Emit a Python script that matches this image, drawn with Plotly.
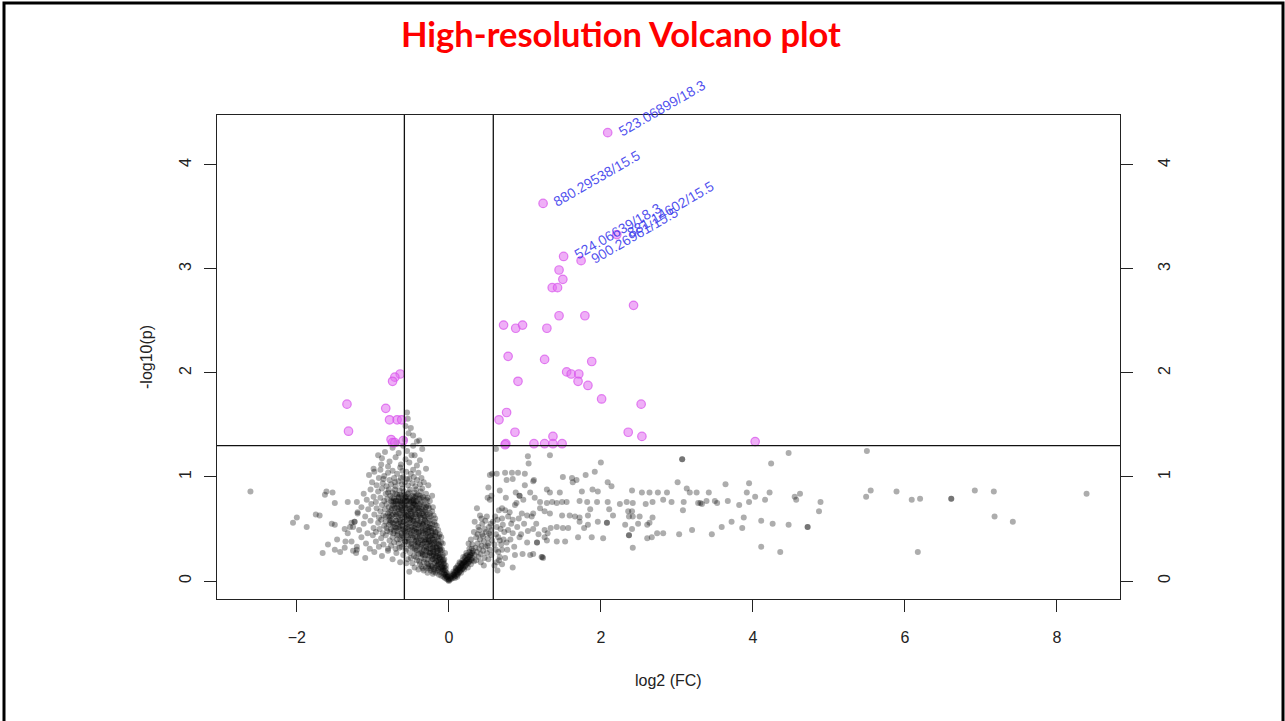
import math
import plotly.graph_objects as go

# ---- cut-offs -------------------------------------------------------------
FC_CUT = 1.5      # fold change
P_CUT = 0.05      # p-value

# ---- non-significant features: (log2 FC, -log10 p) -----------------------
left_arm = [
    (-0.93, 1.21), (-0.88, 1.18), (-0.84, 1.24), (-0.78, 1.15), (-0.74, 1.28), (-0.70, 1.19),
    (-0.66, 1.23), (-0.63, 1.12), (-0.60, 1.30), (-0.57, 1.17), (-0.55, 1.25), (-0.52, 1.14),
    (-0.49, 1.21), (-0.45, 1.21), (-0.42, 1.11), (-0.38, 1.16), (-0.35, 1.27), (-0.80, 1.10),
    (-0.69, 1.33), (-0.58, 1.36), (-0.47, 1.30), (-0.61, 1.06), (-0.89, 1.12), (-0.99, 1.08),
    (-0.55, 1.62), (-0.54, 1.56), (-0.53, 1.42), (-0.47, 1.40), (-0.42, 1.34), (-0.39, 1.35),
    (-0.50, 1.47), (-0.57, 1.49), (-0.30, 1.08),
    (-1.05, 1.02), (-1.01, 0.95), (-0.98, 1.05), (-0.95, 0.92), (-0.92, 0.99), (-0.90, 1.07),
    (-0.87, 0.94), (-0.85, 1.01), (-0.82, 0.91), (-0.80, 1.04), (-0.78, 0.97), (-0.76, 0.93),
    (-0.74, 1.06), (-0.72, 0.99), (-0.70, 0.91), (-0.68, 1.03), (-0.66, 0.96), (-0.64, 1.09),
    (-0.62, 0.93), (-0.60, 1.00), (-0.58, 0.95), (-0.56, 1.05), (-0.54, 0.92), (-0.52, 0.98),
    (-0.50, 1.03), (-0.48, 0.94), (-0.46, 1.00), (-0.44, 0.91), (-0.42, 0.97), (-0.40, 1.04),
    (-0.38, 0.93), (-0.36, 0.99), (-0.33, 0.95), (-0.27, 0.92), (-0.63, 0.99), (-0.71, 0.95),
    (-0.55, 0.98), (-0.47, 1.07), (-0.86, 0.98),
    (-1.12, 0.84), (-1.08, 0.78), (-1.03, 0.88), (-0.99, 0.81), (-0.96, 0.76), (-0.93, 0.86),
    (-0.90, 0.80), (-0.88, 0.89), (-0.85, 0.77), (-0.83, 0.84), (-0.81, 0.79), (-0.79, 0.88),
    (-0.77, 0.82), (-0.75, 0.76), (-0.74, 0.85), (-0.72, 0.79), (-0.71, 0.88), (-0.69, 0.77),
    (-0.68, 0.83), (-0.66, 0.80), (-0.65, 0.87), (-0.63, 0.76), (-0.62, 0.82), (-0.60, 0.78),
    (-0.59, 0.86), (-0.57, 0.81), (-0.56, 0.77), (-0.54, 0.84), (-0.53, 0.79), (-0.51, 0.88),
    (-0.50, 0.76), (-0.48, 0.82), (-0.47, 0.78), (-0.45, 0.85), (-0.44, 0.80), (-0.42, 0.77),
    (-0.41, 0.83), (-0.39, 0.79), (-0.37, 0.86), (-0.36, 0.76), (-0.34, 0.81), (-0.32, 0.78),
    (-0.30, 0.84), (-0.28, 0.80), (-0.25, 0.77), (-0.22, 0.82),
    (-0.76, 0.77), (-0.73, 0.77), (-0.70, 0.77), (-0.67, 0.77), (-0.64, 0.77), (-0.61, 0.77),
    (-0.58, 0.77), (-0.55, 0.77), (-0.52, 0.77), (-0.49, 0.77), (-0.46, 0.77), (-0.43, 0.77),
    (-0.70, 0.84), (-0.61, 0.89), (-0.52, 0.85), (-0.43, 0.88), (-0.35, 0.89), (-0.58, 0.80),
    (-0.46, 0.81), (-0.64, 0.83), (-0.38, 0.82), (-0.80, 0.85),
    (-1.20, 0.66), (-1.15, 0.71), (-1.10, 0.62), (-1.06, 0.69), (-1.02, 0.74), (-0.98, 0.64),
    (-0.95, 0.70), (-0.92, 0.61), (-0.90, 0.67), (-0.88, 0.73), (-0.86, 0.63), (-0.84, 0.69),
    (-0.82, 0.74), (-0.80, 0.65), (-0.79, 0.71), (-0.77, 0.61), (-0.76, 0.68), (-0.74, 0.73),
    (-0.73, 0.64), (-0.71, 0.70), (-0.70, 0.62), (-0.68, 0.67), (-0.67, 0.74), (-0.65, 0.65),
    (-0.64, 0.71), (-0.62, 0.61), (-0.61, 0.68), (-0.59, 0.73), (-0.58, 0.64), (-0.56, 0.70),
    (-0.55, 0.62), (-0.53, 0.67), (-0.52, 0.74), (-0.50, 0.65), (-0.49, 0.71), (-0.47, 0.61),
    (-0.46, 0.68), (-0.44, 0.73), (-0.43, 0.64), (-0.41, 0.70), (-0.40, 0.62), (-0.38, 0.67),
    (-0.37, 0.74), (-0.35, 0.65), (-0.34, 0.71), (-0.32, 0.61), (-0.31, 0.68), (-0.29, 0.73),
    (-0.28, 0.64), (-0.26, 0.70), (-0.24, 0.62), (-0.22, 0.67), (-0.20, 0.63), (-0.18, 0.60),
    (-0.83, 0.62), (-0.78, 0.66), (-0.72, 0.72), (-0.69, 0.64), (-0.66, 0.69), (-0.63, 0.63),
    (-0.60, 0.66), (-0.57, 0.72), (-0.54, 0.64), (-0.51, 0.69), (-0.48, 0.63), (-0.45, 0.66),
    (-0.42, 0.72), (-0.39, 0.64), (-0.36, 0.69), (-0.33, 0.63), (-0.30, 0.66), (-0.27, 0.72),
    (-0.25, 0.65), (-0.21, 0.71), (-0.75, 0.63), (-0.62, 0.70), (-0.50, 0.62), (-0.40, 0.68),
    (-0.30, 0.71), (-0.45, 0.74), (-0.57, 0.66), (-0.68, 0.71),
    (-1.30, 0.52), (-1.24, 0.57), (-1.18, 0.49), (-1.12, 0.55), (-1.07, 0.46), (-1.03, 0.58),
    (-0.99, 0.51), (-0.96, 0.47), (-0.93, 0.56), (-0.91, 0.50), (-0.89, 0.59), (-0.87, 0.46),
    (-0.85, 0.53), (-0.83, 0.57), (-0.81, 0.48), (-0.79, 0.54), (-0.78, 0.59), (-0.76, 0.50),
    (-0.74, 0.56), (-0.73, 0.46), (-0.71, 0.52), (-0.70, 0.58), (-0.68, 0.48), (-0.67, 0.55),
    (-0.65, 0.50), (-0.64, 0.59), (-0.62, 0.46), (-0.61, 0.53), (-0.59, 0.57), (-0.58, 0.48),
    (-0.56, 0.54), (-0.55, 0.59), (-0.53, 0.50), (-0.52, 0.56), (-0.50, 0.46), (-0.49, 0.52),
    (-0.47, 0.58), (-0.46, 0.48), (-0.44, 0.55), (-0.43, 0.50), (-0.41, 0.59), (-0.40, 0.46),
    (-0.38, 0.53), (-0.37, 0.57), (-0.35, 0.48), (-0.34, 0.54), (-0.32, 0.59), (-0.31, 0.50),
    (-0.29, 0.56), (-0.28, 0.46), (-0.26, 0.52), (-0.25, 0.58), (-0.23, 0.48), (-0.22, 0.55),
    (-0.20, 0.50), (-0.19, 0.57), (-0.17, 0.47), (-0.16, 0.53), (-0.14, 0.49), (-0.12, 0.45),
    (-0.82, 0.51), (-0.77, 0.47), (-0.72, 0.55), (-0.66, 0.52), (-0.60, 0.49), (-0.54, 0.52),
    (-0.48, 0.55), (-0.42, 0.47), (-0.36, 0.51), (-0.30, 0.53), (-0.24, 0.51), (-0.18, 0.54),
    (-0.63, 0.56), (-0.51, 0.59), (-0.39, 0.56), (-0.27, 0.49), (-0.57, 0.51), (-0.45, 0.51),
    (-0.33, 0.56), (-0.21, 0.46),
    (-1.28, 0.38), (-1.21, 0.33), (-1.15, 0.42), (-1.09, 0.36), (-1.04, 0.31), (-1.00, 0.44),
    (-0.96, 0.38), (-0.92, 0.33), (-0.89, 0.41), (-0.86, 0.35), (-0.83, 0.44), (-0.80, 0.31),
    (-0.78, 0.39), (-0.76, 0.34), (-0.74, 0.42), (-0.72, 0.37), (-0.70, 0.31), (-0.68, 0.44),
    (-0.66, 0.36), (-0.64, 0.40), (-0.62, 0.33), (-0.60, 0.43), (-0.58, 0.38), (-0.56, 0.31),
    (-0.54, 0.41), (-0.52, 0.35), (-0.50, 0.44), (-0.48, 0.32), (-0.46, 0.39), (-0.44, 0.34),
    (-0.42, 0.42), (-0.40, 0.37), (-0.38, 0.31), (-0.36, 0.44), (-0.34, 0.36), (-0.32, 0.40),
    (-0.30, 0.33), (-0.28, 0.43), (-0.26, 0.38), (-0.24, 0.31), (-0.22, 0.41), (-0.20, 0.35),
    (-0.18, 0.44), (-0.16, 0.32), (-0.14, 0.39), (-0.12, 0.34), (-0.10, 0.42), (-0.08, 0.36),
    (-0.65, 0.32), (-0.59, 0.35), (-0.53, 0.38), (-0.47, 0.42), (-0.41, 0.34), (-0.35, 0.39),
    (-0.29, 0.36), (-0.23, 0.44), (-0.17, 0.38), (-0.11, 0.31), (-0.55, 0.44), (-0.49, 0.36),
    (-0.43, 0.39), (-0.37, 0.33), (-0.31, 0.42), (-0.25, 0.34), (-0.19, 0.40), (-0.13, 0.43),
    (-0.45, 0.31), (-0.33, 0.30), (-0.21, 0.32), (-0.27, 0.40), (-0.39, 0.41), (-0.15, 0.36),
    (-1.22, 0.27), (-1.10, 0.22), (-0.98, 0.28), (-0.88, 0.24), (-0.80, 0.29), (-0.74, 0.21),
    (-0.69, 0.27), (-0.64, 0.18), (-0.60, 0.25), (-0.57, 0.29), (-0.54, 0.21), (-0.51, 0.27),
    (-0.48, 0.17), (-0.46, 0.24), (-0.44, 0.29), (-0.42, 0.20), (-0.40, 0.26), (-0.38, 0.16),
    (-0.36, 0.22), (-0.35, 0.28), (-0.33, 0.18), (-0.31, 0.25), (-0.30, 0.29), (-0.28, 0.21),
    (-0.27, 0.16), (-0.25, 0.27), (-0.24, 0.19), (-0.22, 0.24), (-0.21, 0.29), (-0.19, 0.17),
    (-0.18, 0.22), (-0.16, 0.27), (-0.15, 0.15), (-0.14, 0.20), (-0.12, 0.25), (-0.11, 0.29),
    (-0.10, 0.18), (-0.09, 0.23), (-0.07, 0.16), (-0.06, 0.21), (-0.05, 0.27), (-0.04, 0.15),
    (-0.43, 0.23), (-0.37, 0.27), (-0.32, 0.21), (-0.26, 0.24), (-0.20, 0.26), (-0.17, 0.19),
    (-0.13, 0.22), (-0.08, 0.19), (-0.29, 0.17), (-0.23, 0.15), (-0.39, 0.19), (-0.34, 0.25),
    (-0.21, 0.21), (-0.11, 0.16), (-0.15, 0.24), (-0.27, 0.28), (-0.50, 0.22), (-0.56, 0.17),
    (-0.52, 0.09), (-0.45, 0.13), (-0.40, 0.11), (-0.36, 0.14), (-0.33, 0.10), (-0.30, 0.13),
    (-0.28, 0.08), (-0.26, 0.12), (-0.24, 0.10), (-0.22, 0.14), (-0.21, 0.07), (-0.19, 0.11),
    (-0.18, 0.13), (-0.17, 0.08), (-0.15, 0.10), (-0.14, 0.12), (-0.13, 0.06), (-0.12, 0.09),
    (-0.11, 0.13), (-0.10, 0.05), (-0.09, 0.08), (-0.08, 0.11), (-0.07, 0.04), (-0.06, 0.07),
    (-0.05, 0.10), (-0.05, 0.03), (-0.04, 0.06), (-0.03, 0.02), (-0.03, 0.08), (-0.02, 0.04),
    (-0.01, 0.01), (-0.01, 0.05), (0.00, 0.00), (0.00, 0.02), (-0.16, 0.14), (-0.23, 0.12),
    (-0.20, 0.09), (-0.27, 0.14), (-0.34, 0.12), (-0.08, 0.13), (-0.02, 0.07),
]

# the most crowded part of the cloud (down-regulated side and the V tip)
core_dense = [
    (-0.79, 0.62), (-0.77, 0.56), (-0.75, 0.70), (-0.73, 0.52), (-0.71, 0.66), (-0.69, 0.58),
    (-0.67, 0.45), (-0.66, 0.62), (-0.64, 0.53), (-0.63, 0.68), (-0.61, 0.41), (-0.60, 0.57),
    (-0.58, 0.71), (-0.57, 0.46), (-0.56, 0.63), (-0.54, 0.55), (-0.53, 0.40), (-0.52, 0.69),
    (-0.51, 0.49), (-0.49, 0.60), (-0.48, 0.44), (-0.47, 0.73), (-0.46, 0.53), (-0.45, 0.37),
    (-0.44, 0.64), (-0.43, 0.47), (-0.42, 0.58), (-0.41, 0.36), (-0.40, 0.51), (-0.39, 0.70),
    (-0.38, 0.43), (-0.37, 0.61), (-0.36, 0.35), (-0.35, 0.55), (-0.34, 0.46), (-0.33, 0.67),
    (-0.32, 0.38), (-0.31, 0.58), (-0.30, 0.45), (-0.29, 0.31), (-0.28, 0.52), (-0.27, 0.37),
    (-0.26, 0.60), (-0.25, 0.43), (-0.24, 0.27), (-0.23, 0.51), (-0.22, 0.35), (-0.21, 0.44),
    (-0.20, 0.28), (-0.19, 0.37), (-0.18, 0.47), (-0.17, 0.24), (-0.16, 0.33), (-0.15, 0.42),
    (-0.14, 0.27), (-0.13, 0.18), (-0.12, 0.30), (-0.11, 0.21), (-0.10, 0.37), (-0.09, 0.14),
    (-0.08, 0.25), (-0.07, 0.10), (-0.06, 0.17), (-0.05, 0.06), (-0.04, 0.12), (-0.03, 0.04),
    (-0.74, 0.80), (-0.70, 0.74), (-0.66, 0.81), (-0.62, 0.75), (-0.59, 0.83), (-0.55, 0.73),
    (-0.51, 0.80), (-0.47, 0.75), (-0.43, 0.82), (-0.40, 0.74), (-0.36, 0.80), (-0.33, 0.73),
    (-0.29, 0.78), (-0.72, 0.48), (-0.68, 0.40), (-0.65, 0.57), (-0.61, 0.50), (-0.57, 0.38),
    (-0.53, 0.60), (-0.50, 0.33), (-0.46, 0.58), (-0.42, 0.29), (-0.39, 0.47), (-0.35, 0.26),
    (-0.31, 0.48), (-0.28, 0.25), (-0.25, 0.39), (-0.22, 0.21), (-0.19, 0.30), (-0.16, 0.19),
    (-0.13, 0.35), (-0.10, 0.11), (-0.07, 0.20), (-0.44, 0.42), (-0.41, 0.54), (-0.37, 0.39),
    (-0.34, 0.49), (-0.30, 0.40), (-0.27, 0.47), (-0.24, 0.36), (-0.21, 0.40), (-0.18, 0.32),
    (-0.15, 0.29), (-0.12, 0.23), (-0.09, 0.30), (-0.06, 0.13), (-0.32, 0.33), (-0.26, 0.31),
    (-0.20, 0.24), (-0.14, 0.16), (-0.48, 0.49), (-0.55, 0.47), (-0.62, 0.44), (-0.69, 0.51),
    (-0.76, 0.58), (-0.58, 0.61), (-0.50, 0.67), (-0.44, 0.69), (-0.38, 0.63), (-0.31, 0.62),
    (-0.25, 0.55), (-0.63, 0.73), (-0.56, 0.81), (-0.48, 0.71),
    (0.03, 0.04), (0.05, 0.07), (0.07, 0.06), (0.09, 0.10), (0.11, 0.10), (0.13, 0.13),
    (0.15, 0.13), (0.17, 0.15), (0.19, 0.17), (0.21, 0.18), (0.23, 0.20), (0.25, 0.21),
    (0.27, 0.23), (0.29, 0.25), (0.31, 0.27), (0.14, 0.09), (0.18, 0.12), (0.22, 0.15),
    (0.26, 0.18), (0.30, 0.20), (0.08, 0.03), (0.12, 0.06),
]

right_arm = [
    (0.01, 0.01), (0.02, 0.03), (0.03, 0.02), (0.04, 0.05), (0.05, 0.03), (0.06, 0.06),
    (0.07, 0.04), (0.08, 0.08), (0.09, 0.05), (0.10, 0.09), (0.11, 0.07), (0.12, 0.11),
    (0.13, 0.08), (0.14, 0.12), (0.15, 0.10), (0.16, 0.14), (0.17, 0.11), (0.18, 0.16),
    (0.19, 0.13), (0.20, 0.18), (0.21, 0.14), (0.22, 0.19), (0.23, 0.16), (0.24, 0.21),
    (0.25, 0.17), (0.26, 0.23), (0.27, 0.19), (0.28, 0.25), (0.29, 0.21), (0.30, 0.27),
    (0.31, 0.22), (0.32, 0.29), (0.06, 0.09), (0.09, 0.12), (0.12, 0.15), (0.15, 0.17),
    (0.18, 0.20), (0.21, 0.22), (0.24, 0.25), (0.27, 0.28), (0.11, 0.04), (0.16, 0.08),
    (0.20, 0.11), (0.25, 0.13), (0.29, 0.16), (0.33, 0.19), (0.14, 0.18), (0.19, 0.23),
    (0.23, 0.27), (0.27, 0.31), (0.10, 0.13), (0.17, 0.17), (0.22, 0.24),
    (0.34, 0.25), (0.35, 0.32), (0.36, 0.20), (0.37, 0.28), (0.38, 0.36), (0.39, 0.23),
    (0.40, 0.31), (0.41, 0.40), (0.42, 0.26), (0.43, 0.34), (0.44, 0.45), (0.45, 0.29),
    (0.46, 0.38), (0.47, 0.22), (0.48, 0.33), (0.49, 0.47), (0.50, 0.27), (0.51, 0.41),
    (0.52, 0.36), (0.53, 0.52), (0.54, 0.30), (0.55, 0.44), (0.56, 0.25), (0.57, 0.39),
    (0.36, 0.42), (0.40, 0.49), (0.44, 0.55), (0.48, 0.58), (0.34, 0.57), (0.37, 0.70),
    (0.31, 0.35), (0.29, 0.40), (0.33, 0.47), (0.42, 0.18), (0.46, 0.15), (0.52, 0.21),
    (0.55, 0.55), (0.50, 0.62), (0.41, 0.63), (0.26, 0.36), (0.47, 0.50), (0.53, 0.46),
    (0.39, 0.52), (0.45, 0.43), (0.43, 0.60), (0.38, 0.45), (0.51, 0.34), (0.30, 0.31),
    (0.56, 0.49), (0.58, 0.57), (0.54, 1.02), (0.52, 0.90), (0.56, 0.82),
]

right_tail = [
    (0.62, 1.27), (1.04, 1.20), (1.05, 1.13), (1.33, 1.21), (2.00, 1.14), (3.07, 1.17),
    (3.07, 1.17), (4.24, 1.13), (4.47, 1.23), (0.57, 1.03), (0.63, 1.03), (0.74, 1.04),
    (0.83, 1.04), (0.91, 1.04), (1.00, 1.03), (0.76, 0.97), (0.84, 0.98), (1.11, 0.96),
    (1.12, 0.97), (1.00, 0.92), (1.50, 1.00), (1.62, 0.99), (1.68, 0.97), (1.63, 0.95),
    (1.80, 1.02), (1.92, 1.05), (2.09, 0.95), (2.14, 0.91), (3.01, 0.95), (3.13, 0.89),
    (3.64, 0.93), (3.95, 0.94), (0.67, 0.87), (0.93, 0.82), (0.93, 0.82), (1.07, 0.85),
    (1.13, 0.80), (1.29, 0.88), (1.33, 0.85), (1.46, 0.85), (1.75, 0.86), (1.89, 0.88),
    (1.96, 0.86), (2.41, 0.87), (2.54, 0.85), (2.64, 0.85), (2.75, 0.85), (2.87, 0.85),
    (3.17, 0.85), (3.26, 0.85), (3.42, 0.85), (3.92, 0.85), (4.03, 0.81), (4.22, 0.85),
    (4.16, 0.78), (4.55, 0.81), (4.62, 0.84), (0.51, 0.80), (0.54, 0.78), (0.89, 0.75),
    (0.87, 0.73), (1.20, 0.76), (1.29, 0.75), (1.36, 0.76), (1.42, 0.75), (1.49, 0.76),
    (1.55, 0.76), (1.72, 0.77), (1.82, 0.76), (1.95, 0.76), (2.09, 0.76), (2.25, 0.74),
    (2.34, 0.76), (2.42, 0.75), (2.59, 0.74), (2.68, 0.76), (2.82, 0.78), (2.93, 0.76),
    (3.09, 0.76), (3.28, 0.75), (3.33, 0.74), (3.31, 0.75), (3.39, 0.77), (3.50, 0.77),
    (3.53, 0.75), (3.67, 0.77), (3.82, 0.73), (3.95, 0.76), (4.89, 0.76), (4.87, 0.67),
    (4.57, 0.78), (0.70, 0.70), (0.74, 0.68), (0.80, 0.66), (0.96, 0.65), (1.03, 0.63),
    (1.09, 0.62), (1.26, 0.67), (1.33, 0.65), (1.49, 0.63), (1.59, 0.63), (1.66, 0.62),
    (1.72, 0.61), (1.86, 0.69), (1.83, 0.63), (2.11, 0.69), (2.36, 0.67), (2.41, 0.67),
    (2.37, 0.62), (2.42, 0.62), (2.51, 0.62), (2.68, 0.61), (3.08, 0.68), (2.08, 0.56),
    (2.08, 0.56), (1.96, 0.57), (3.88, 0.61), (3.72, 0.57), (4.11, 0.58), (4.26, 0.55),
    (4.47, 0.54), (4.72, 0.52), (4.72, 0.52), (3.59, 0.52), (3.20, 0.49), (3.03, 0.45),
    (3.46, 0.45), (3.86, 0.51), (2.74, 0.46), (2.82, 0.46), (2.61, 0.41), (2.67, 0.42),
    (2.37, 0.44), (2.37, 0.44), (2.41, 0.50), (2.32, 0.54), (2.49, 0.55), (2.61, 0.54),
    (2.64, 0.56), (2.16, 0.63), (1.78, 0.51), (1.83, 0.54), (1.72, 0.57), (1.70, 0.42),
    (1.88, 0.42), (2.03, 0.41), (1.50, 0.51), (1.57, 0.51), (1.42, 0.52), (1.34, 0.51),
    (1.11, 0.50), (1.26, 0.49), (1.30, 0.46), (1.42, 0.38), (1.53, 0.38), (1.16, 0.37),
    (1.16, 0.37), (1.26, 0.42), (1.29, 0.39), (2.42, 0.32), (4.11, 0.33), (4.36, 0.28),
    (0.84, 0.46), (0.93, 0.42), (1.03, 0.37), (0.87, 0.25), (0.97, 0.26), (1.07, 0.25),
    (1.11, 0.26), (1.22, 0.23), (1.24, 0.22), (1.23, 0.23), (0.84, 0.13), (0.70, 0.30),
    (0.74, 0.22), (0.63, 0.18), (0.67, 0.23), (0.76, 0.37), (0.67, 0.39), (0.71, 0.54),
    (0.78, 0.49), (0.84, 0.59), (0.78, 0.62), (0.61, 0.62), (0.64, 0.59), (1.11, 0.65),
    (1.20, 0.70), (0.60, 0.35), (0.62, 0.45), (0.65, 0.28), (0.68, 0.50), (0.72, 0.40),
    (0.60, 0.15), (0.63, 0.52), (0.66, 0.20),
    (0.62, 0.30), (0.65, 0.42), (0.69, 0.35), (0.73, 0.47), (0.77, 0.30), (0.81, 0.40),
    (0.86, 0.33), (0.90, 0.52), (0.95, 0.45), (0.99, 0.55), (1.04, 0.48), (0.70, 0.60),
    (0.66, 0.68), (0.82, 0.55), (0.92, 0.60), (0.75, 0.80), (0.88, 0.85), (0.98, 0.78),
    (1.15, 0.55), (1.18, 0.45), (0.64, 0.10), (0.70, 0.16),
    (5.50, 1.25), (5.49, 0.81), (5.55, 0.87), (5.89, 0.86), (6.09, 0.78), (6.20, 0.79),
    (6.61, 0.79), (6.61, 0.79), (6.92, 0.87), (7.17, 0.86), (7.18, 0.62), (7.42, 0.57),
    (6.17, 0.28), (8.39, 0.84),
]

left_tail = [
    (-2.61, 0.86), (-1.61, 0.86), (-1.53, 0.85), (-1.63, 0.83), (-1.50, 0.75), (-1.33, 0.76),
    (-1.21, 0.76), (-1.75, 0.64), (-1.70, 0.63), (-2.00, 0.61), (-2.05, 0.56), (-1.87, 0.52),
    (-1.54, 0.55), (-1.50, 0.54), (-1.37, 0.50), (-1.33, 0.46), (-1.47, 0.40), (-1.36, 0.38),
    (-1.59, 0.35), (-1.66, 0.27), (-1.50, 0.30), (-1.43, 0.28), (-1.37, 0.32), (-1.26, 0.29),
    (-1.21, 0.30), (-1.28, 0.56), (-1.26, 0.52), (-1.24, 0.57), (-1.20, 0.65),
]

# ---- significant features ------------------------------------------------
sig_fc = [2.09, 1.24, 1.51, 1.74, 2.21,
          1.45, 1.50, 1.36, 1.43, 2.43, 1.45, 1.79, 0.72, 0.88, 0.97, 1.29, 0.78, 1.26,
          1.88, 1.55, 1.61, 1.71, 1.70, 0.91, 1.83, 2.01, 2.53, 0.76, 0.66, 0.87, 2.36,
          1.37, 2.54, 0.75, 0.74, 1.12, 1.26, 1.37, 1.49, 4.03,
          -0.64, -0.71, -0.74, -1.34, -0.83, -0.78, -0.68, -0.62, -1.32, -0.76, -0.74,
          -0.71, -0.60]
sig_p = [4.31, 3.63, 3.12, 3.08, 3.33,
         2.99, 2.90, 2.82, 2.82, 2.65, 2.55, 2.55, 2.46, 2.43, 2.46, 2.43, 2.16, 2.13,
         2.11, 2.01, 1.99, 1.99, 1.92, 1.92, 1.88, 1.75, 1.70, 1.62, 1.55, 1.43, 1.43,
         1.39, 1.39, 1.32, 1.31, 1.32, 1.32, 1.32, 1.32, 1.34,
         1.99, 1.96, 1.92, 1.70, 1.66, 1.55, 1.55, 1.55, 1.44, 1.36, 1.33,
         1.33, 1.35]

# top hits annotated with m/z / retention time
top_idx = [0, 1, 2, 4, 3]
top_names = ["523.06899/18.3", "880.29538/15.5", "524.06639/18.3",
             "881.14602/15.5", "900.26961/15.5"]

x_ticks = [-2, 0, 2, 4, 6, 8]
y_ticks = [0, 1, 2, 3, 4]

# ---- figure geometry -------------------------------------------------------
W, H = 1285, 721
M_L, M_R, M_T, M_B = 217, 165, 115, 122
X_RANGE = [-3.05, 8.83]
Y_RANGE = [-0.173, 4.48]
PW, PH = W - M_L - M_R, H - M_T - M_B


def paper_x(px):
    return (px - M_L) / PW


def paper_y(py):
    return (H - M_B - py) / PH


grey = left_arm + core_dense + right_arm + right_tail + left_tail
fig = go.Figure()
fig.add_trace(go.Scatter(
    x=[p[0] for p in grey], y=[p[1] for p in grey], mode="markers",
    marker=dict(size=6, color="rgba(0,0,0,0.32)", line=dict(width=0)),
    hoverinfo="skip", showlegend=False))
fig.add_trace(go.Scatter(
    x=sig_fc, y=sig_p, mode="markers",
    marker=dict(size=8.5, color="rgba(226,110,240,0.55)",
                line=dict(width=1.2, color="rgba(215,80,235,0.7)")),
    showlegend=False))
# invisible trace carrying the right-hand y axis
fig.add_trace(go.Scatter(x=[0], y=[0], yaxis="y2", mode="markers",
                         marker=dict(opacity=0), hoverinfo="skip", showlegend=False))

lx = math.log2(FC_CUT)
ly = -math.log10(P_CUT)
line_style = dict(color="#111", width=1.3)
shapes = [
    dict(type="line", xref="x", yref="paper", x0=-lx, x1=-lx, y0=0, y1=1, line=line_style),
    dict(type="line", xref="x", yref="paper", x0=lx, x1=lx, y0=0, y1=1, line=line_style),
    dict(type="line", xref="paper", yref="y", x0=0, x1=1, y0=ly, y1=ly, line=line_style),
    # slide frame
    dict(type="rect", xref="paper", yref="paper", x0=paper_x(4), x1=paper_x(1283),
         y0=paper_y(760), y1=paper_y(3), line=dict(color="black", width=3)),
]

annotations = []
for i, name in zip(top_idx, top_names):
    annotations.append(dict(
        x=sig_fc[i], y=sig_p[i], xref="x", yref="y", text=name, showarrow=False,
        textangle=-30, xanchor="left", yanchor="bottom", xshift=5, yshift=-9,
        font=dict(family="Liberation Sans, Arial, sans-serif", size=14,
                  color="rgba(50,50,235,0.85)")))

axis_font = dict(family="Liberation Sans, Arial, sans-serif", size=16, color="#222")
annotations += [
    dict(text="High-resolution Volcano plot", xref="paper", yref="paper",
         x=paper_x(621), y=paper_y(33), showarrow=False, xanchor="center", yanchor="middle",
         font=dict(family="Lato, sans-serif", size=34.5, color="#ff0000", weight="bold")),
    dict(text="log2 (FC)", xref="paper", yref="paper", x=0.5, y=paper_y(680),
         showarrow=False, xanchor="center", yanchor="middle", font=axis_font),
    dict(text="-log10(p)", xref="paper", yref="paper", x=paper_x(146), y=0.5,
         showarrow=False, xanchor="center", yanchor="middle", textangle=-90, font=axis_font),
]

fig.update_layout(
    width=W, height=H, margin=dict(l=M_L, r=M_R, t=M_T, b=M_B, autoexpand=False),
    paper_bgcolor="white", plot_bgcolor="white",
    xaxis=dict(range=X_RANGE, tickvals=x_ticks, ticks="outside", ticklen=12, tickwidth=1.3,
               tickcolor="#222", showline=True, linecolor="#222", linewidth=1.3, mirror=True,
               showgrid=False, zeroline=False, tickfont=axis_font, ticklabelstandoff=12),
    yaxis=dict(range=Y_RANGE, tickvals=y_ticks, ticks="outside", ticklen=12, tickwidth=1.3,
               tickcolor="#222", showline=True, linecolor="#222", linewidth=1.3, mirror=True,
               showgrid=False, zeroline=False, tickangle=-90, tickfont=axis_font,
               ticklabelstandoff=6),
    yaxis2=dict(range=Y_RANGE, tickvals=y_ticks, overlaying="y", side="right",
                ticks="outside", ticklen=12, tickwidth=1.3, tickcolor="#222",
                showline=False, showgrid=False, zeroline=False, tickangle=-90,
                tickfont=axis_font, ticklabelstandoff=18),
    shapes=shapes, annotations=annotations,
)

fig.write_html("out.html")
